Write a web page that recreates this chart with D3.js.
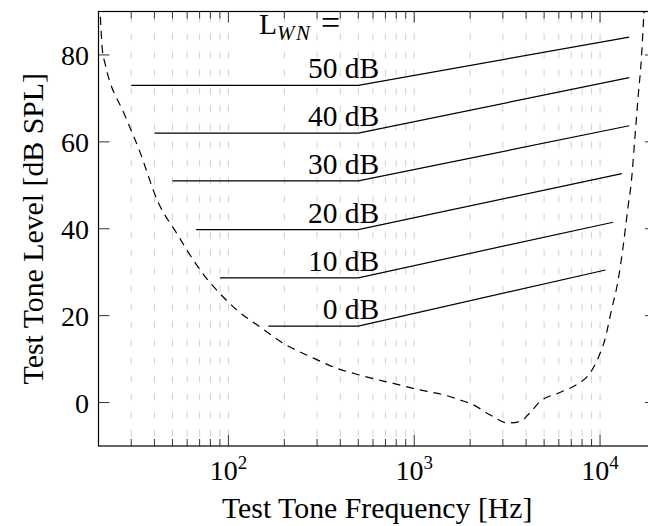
<!DOCTYPE html>
<html>
<head>
<meta charset="utf-8">
<script src="https://cdn.jsdelivr.net/npm/d3@7"></script>
<style>
body { margin: 0; background: #fff; }
text { font-family: "Liberation Serif", "DejaVu Serif", serif; fill: #000; }
</style>
</head>
<body>
<svg id="chart" width="648" height="526"></svg>
<script>
/* threshold in quiet (dashed curve) */
var quietFreq  = [20.3, 21, 21.7, 27.8, 32.8, 42, 52.8, 65, 76.5, 90, 111, 148, 198, 275, 383, 511,
                  771, 1074, 1433, 1762, 2076, 2553, 3200, 3700, 4185, 4740, 6070, 7460, 8800,
                  9750, 10600, 11520, 12500, 13300, 14140, 14750, 15400, 16000, 16700, 17200, 17500];
var quietLevel = [92, 81, 78, 66, 58.6, 46, 38.9, 32.7, 28.5, 25.1, 21.3, 17.4, 13.6, 10.6, 7.9, 6.3,
                  4.4, 2.9, 1.8, 0.6, -0.5, -2.8, -4.7, -4.4, -2.4, 0.2, 2.3, 4.1, 6.7,
                  10.2, 14.4, 21.3, 28.1, 35.8, 45, 51, 61, 70, 79.4, 89.3, 95];

/* masked thresholds, one per white noise level */
var noiseLevels   = [0, 10, 20, 30, 40, 50];
var maskStartFreq = [164, 90, 67, 50, 40, 30];
var maskFlatLevel = [17.6, 28.7, 39.8, 51, 62, 73];
var maskKneeFreq  = 500;
var maskEndFreq   = [10700, 11750, 13100, 14350, 14350, 14350];
var maskEndLevel  = [30.5, 41.5, 52.7, 63.7, 74.8, 84.1];

var xMajorTicks = [100, 1000, 10000];
var xTickExp    = ["2", "3", "4"];
var yTicks      = [0, 20, 40, 60, 80];

var svg = d3.select("#chart");
var pL = 98.5, pR = 656, pT = 11.5, pB = 446;

var x = d3.scaleLog().domain([20, 20000]).range([pL, pR]);
var y = d3.scaleLinear().domain([-10, 90]).range([pB, pT]);

svg.append("defs").append("clipPath").attr("id", "plotclip")
  .append("rect").attr("x", pL).attr("y", pT)
  .attr("width", pR - pL).attr("height", pB - pT);

// vertical dashed grid
var gridTicks = x.ticks().filter(function(t){ return t > 20 && t < 20000; });
svg.append("g").selectAll("line").data(gridTicks).enter().append("line")
  .attr("x1", function(d){ return x(d); }).attr("x2", function(d){ return x(d); })
  .attr("y1", pT).attr("y2", pB)
  .attr("stroke", "#d2d2d2").attr("stroke-width", 1)
  .attr("stroke-dasharray", "7,11").attr("stroke-dashoffset", -4);

// x ticks, top and bottom
function isMajor(d){ return xMajorTicks.indexOf(d) >= 0; }
var tk = svg.append("g").attr("stroke", "#333").attr("stroke-width", 1);
tk.selectAll(".tb").data(gridTicks).enter().append("line")
  .attr("x1", function(d){ return x(d); }).attr("x2", function(d){ return x(d); })
  .attr("y1", pB).attr("y2", function(d){ return pB - (isMajor(d) ? 11 : 7); });
tk.selectAll(".tt").data(gridTicks).enter().append("line")
  .attr("x1", function(d){ return x(d); }).attr("x2", function(d){ return x(d); })
  .attr("y1", pT).attr("y2", function(d){ return pT + (isMajor(d) ? 11 : 7); });
// y ticks, left and right
tk.selectAll(".yl").data(yTicks).enter().append("line")
  .attr("x1", pL).attr("x2", pL + 11)
  .attr("y1", function(d){ return y(d); }).attr("y2", function(d){ return y(d); });
tk.selectAll(".yr").data(yTicks).enter().append("line")
  .attr("x1", pR).attr("x2", pR - 11)
  .attr("y1", function(d){ return y(d); }).attr("y2", function(d){ return y(d); });

// frame
svg.append("rect").attr("x", pL).attr("y", pT)
  .attr("width", pR - pL).attr("height", pB - pT)
  .attr("fill", "none").attr("stroke", "#000").attr("stroke-width", 1.2);

var plot = svg.append("g").attr("clip-path", "url(#plotclip)");

// threshold in quiet
var quiet = quietFreq.map(function(f, i){ return [f, quietLevel[i]]; });
plot.append("path").datum(quiet)
  .attr("d", d3.line().x(function(d){ return x(d[0]); }).y(function(d){ return y(d[1]); })
    .curve(d3.curveMonotoneX))
  .attr("fill", "none").attr("stroke", "#000").attr("stroke-width", 1.2)
  .attr("stroke-dasharray", "8,6");

// masked threshold lines
var masks = noiseLevels.map(function(l, i){
  return [[maskStartFreq[i], maskFlatLevel[i]], [maskKneeFreq, maskFlatLevel[i]],
          [maskEndFreq[i], maskEndLevel[i]]];
});
plot.selectAll(".mask").data(masks).enter().append("path")
  .attr("d", d3.line().x(function(d){ return x(d[0]); }).y(function(d){ return y(d[1]); }))
  .attr("fill", "none").attr("stroke", "#000").attr("stroke-width", 1.2);

// level labels
svg.selectAll(".lvl").data(noiseLevels).enter().append("text")
  .attr("x", x(maskKneeFreq) + 21)
  .attr("y", function(d, i){ return y(maskFlatLevel[i]) - 7; })
  .attr("text-anchor", "end").attr("font-size", 29.5)
  .text(function(d){ return d + " dB"; });

var lwn = svg.append("text").attr("x", 259).attr("y", 34).attr("font-size", 29.5);
lwn.append("tspan").text("L");
lwn.append("tspan").attr("font-style", "italic").attr("font-size", 21)
  .attr("letter-spacing", 1.5).attr("dy", 6).text("WN");
lwn.append("tspan").attr("x", 321).attr("dy", -6).attr("font-size", 34).text("=");

// tick labels
svg.selectAll(".yt").data(yTicks).enter().append("text")
  .attr("x", 89).attr("y", function(d){ return y(d) + 10; })
  .attr("text-anchor", "end").attr("font-size", 28)
  .text(function(d){ return d; });

var xl = svg.selectAll(".xt").data(xMajorTicks).enter().append("text")
  .attr("x", function(d){ return x(d); }).attr("y", 480)
  .attr("text-anchor", "middle").attr("font-size", 28);
xl.append("tspan").text("10");
xl.append("tspan").attr("font-size", 19).attr("dy", -11)
  .text(function(d, i){ return xTickExp[i]; });

// axis titles
svg.append("text").attr("x", (pL + pR) / 2).attr("y", 518)
  .attr("text-anchor", "middle").attr("font-size", 29.8)
  .text("Test Tone Frequency [Hz]");
svg.append("text")
  .attr("transform", "translate(43," + ((pT + pB) / 2) + ") rotate(-90)")
  .attr("text-anchor", "middle").attr("font-size", 29.8)
  .text("Test Tone Level [dB SPL]");
</script>
</body>
</html>
